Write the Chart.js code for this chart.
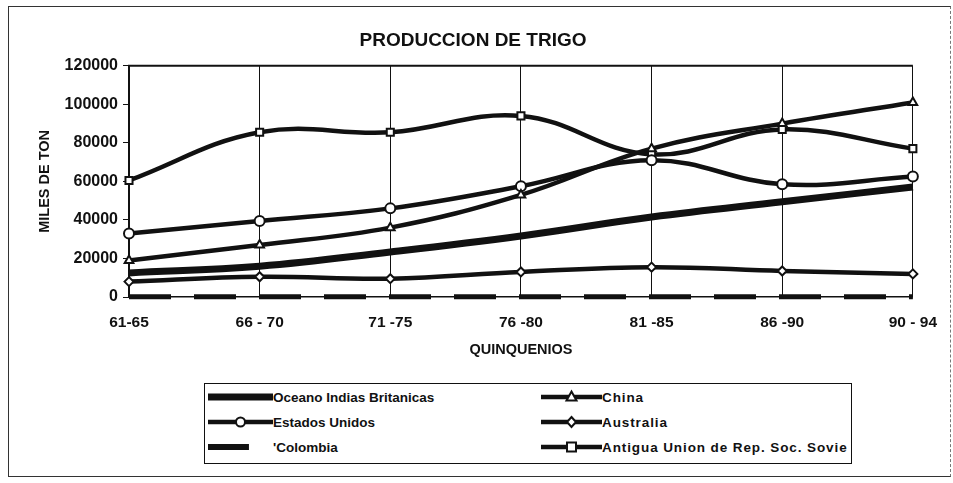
<!DOCTYPE html>
<html><head><meta charset="utf-8">
<script src="https://cdn.jsdelivr.net/npm/chart.js@4/dist/chart.umd.min.js"></script>
<style>
html,body{margin:0;padding:0;background:#fff;}
#wrap{position:relative;width:953px;height:483px;overflow:hidden;font-family:"Liberation Sans",Arial,sans-serif;}
#frame{position:absolute;left:8px;top:6px;width:943px;height:471px;border-left:1px solid #333;border-top:1px solid #333;border-bottom:1px solid #333;border-right:1px dashed #777;box-sizing:border-box;}
canvas{position:absolute;left:0;top:0;}
#legend{position:absolute;left:204px;top:383px;width:648px;height:81px;border:1.5px solid #111;box-sizing:border-box;background:#fff;overflow:hidden;}
.item{position:absolute;height:20px;display:flex;align-items:center;font-weight:bold;font-size:13.5px;color:#111;white-space:nowrap;}
.item.c2{letter-spacing:0.9px;}
.sample{position:absolute;height:20px;}
</style>
</head>
<body>
<div id="wrap">
  <div id="frame"></div>
  <canvas id="c" width="953" height="483"></canvas>
  <div id="legend"></div>
</div>
<script>
// ---- data ----
const categories = ["61-65", "66 - 70", "71 -75", "76 -80", "81 -85", "86 -90", "90 - 94"];
const oceanoIndias = [12500, 16000, 23400, 31700, 41500, 49400, 57100];
const china = [19000, 27000, 36000, 53000, 77000, 90000, 101000];
const estadosUnidos = [33000, 39500, 46000, 57500, 71000, 58500, 62500];
const australia = [8000, 10500, 9500, 13000, 15500, 13500, 12000];
const colombia = [100, 100, 100, 100, 100, 100, 100];
const antiguaURSS = [60500, 85500, 85500, 94000, 74000, 87000, 77000];
const yTicks = [0, 20000, 40000, 60000, 80000, 100000, 120000];

const seriesNames = ["Oceano Indias Britanicas", "China", "Estados Unidos", "Australia", "'Colombia", "Antigua Union de Rep. Soc. Sovie"];

const INK = '#111';
const FONT = '"Liberation Sans", Arial, sans-serif';
function lineDs(label, data, style, extra) {
  return Object.assign({
    label: label, data: data,
    borderColor: INK, backgroundColor: '#fff',
    borderWidth: 4.5, tension: 0.4, clip: 10,
    pointStyle: style, pointRadius: style ? 5 : 0,
    pointBackgroundColor: '#fff', pointBorderColor: INK, pointBorderWidth: 2,
    fill: false
  }, extra || {});
}

const datasets = [
  lineDs(seriesNames[0], oceanoIndias, false, {borderWidth: 7}),
  lineDs(seriesNames[1], china, 'triangle'),
  lineDs(seriesNames[2], estadosUnidos, 'circle'),
  lineDs(seriesNames[3], australia, 'rectRot', {pointRadius: 4.5}),
  lineDs(seriesNames[4], colombia, false, {borderWidth: 5, borderDash: [42, 23], tension: 0, borderCapStyle: 'butt'}),
  lineDs(seriesNames[5], antiguaURSS, 'rect')
];

const frameTop = {
  id: 'frameTop',
  afterDatasetsDraw(chart) {
    const a = chart.chartArea, ctx = chart.ctx;
    ctx.save();
    ctx.strokeStyle = INK; ctx.lineWidth = 2;
    ctx.beginPath(); ctx.moveTo(a.left - 1, a.top); ctx.lineTo(a.right, a.top); ctx.stroke();
    ctx.restore();
  }
};

new Chart(document.getElementById('c'), {
  type: 'line',
  data: {labels: categories, datasets: datasets},
  plugins: [frameTop],
  options: {
    responsive: false, animation: false,
    layout: {padding: {left: 30, top: 20, right: 37, bottom: 118}},
    plugins: {
      legend: {display: false},
      tooltip: {enabled: false},
      title: {display: true, text: 'PRODUCCION DE TRIGO', color: INK,
        font: {family: FONT, size: 19, weight: 'bold'},
        padding: {top: 9, bottom: 14}}
    },
    scales: {
      x: {
        offset: false,
        afterFit(s) { s.height = 68; },
        grid: {color: INK, lineWidth: 1, drawTicks: false},
        border: {color: INK, width: 1.5},
        ticks: {color: INK, padding: 16, maxRotation: 0, autoSkip: false,
          font: {family: FONT, size: 15.5, weight: 'bold'}},
        title: {display: true, text: 'QUINQUENIOS', color: INK, padding: {top: 0, bottom: 6},
          font: {family: FONT, size: 14.5, weight: 'bold'}}
      },
      y: {
        min: yTicks[0], max: yTicks[yTicks.length - 1],
        afterFit(s) { s.width = 99; },
        afterBuildTicks(s) { s.ticks = yTicks.map(v => ({value: v})); },
        grid: {drawOnChartArea: false, color: INK, tickLength: 6, lineWidth: 1},
        border: {color: INK, width: 2},
        ticks: {color: INK, padding: 5, callback: v => String(v),
          font: {family: FONT, size: 16, weight: 'bold'}},
        title: {display: true, text: 'MILES DE TON', color: INK, padding: {top: 6, bottom: 0},
          font: {family: FONT, size: 14.5, weight: 'bold'}}
      }
    }
  }
});

// ---- legend (HTML) ----
function sampleSvg(w, style, thick, dashed) {
  const mid = w / 2;
  let s = '<svg width="' + w + '" height="20" xmlns="http://www.w3.org/2000/svg">';
  if (dashed) {
    s += '<line x1="0" y1="10" x2="' + (w * 0.63) + '" y2="10" stroke="' + INK + '" stroke-width="6"/>';
  } else {
    s += '<line x1="0" y1="10" x2="' + w + '" y2="10" stroke="' + INK + '" stroke-width="' + (thick ? 7 : 4.5) + '" stroke-linecap="round"/>';
  }
  const m = 'fill="#fff" stroke="' + INK + '" stroke-width="2"';
  if (style === 'circle') s += '<circle cx="' + mid + '" cy="10" r="4.5" ' + m + '/>';
  if (style === 'rect') s += '<rect x="' + (mid - 4.5) + '" y="5.5" width="9" height="9" ' + m + '/>';
  if (style === 'triangle') s += '<polygon points="' + mid + ',4.5 ' + (mid + 5) + ',13.5 ' + (mid - 5) + ',13.5" ' + m + '/>';
  if (style === 'rectRot') s += '<polygon points="' + mid + ',5 ' + (mid + 4.5) + ',10 ' + mid + ',15 ' + (mid - 4.5) + ',10" ' + m + '/>';
  return s + '</svg>';
}
const legendLayout = [
  {name: seriesNames[0], col: 0, row: 0, style: null, thick: true},
  {name: seriesNames[1], col: 1, row: 0, style: 'triangle'},
  {name: seriesNames[2], col: 0, row: 1, style: 'circle'},
  {name: seriesNames[3], col: 1, row: 1, style: 'rectRot'},
  {name: seriesNames[4], col: 0, row: 2, style: null, dashed: true},
  {name: seriesNames[5], col: 1, row: 2, style: 'rect'}
];
const leg = document.getElementById('legend');
legendLayout.forEach(it => {
  const rowTop = [3, 28, 53][it.row];
  const sx = it.col === 0 ? 3 : 336, sw = it.col === 0 ? 65 : 61;
  const tx = it.col === 0 ? 68 : 397;
  const sd = document.createElement('div');
  sd.className = 'sample'; sd.style.left = sx + 'px'; sd.style.top = rowTop + 'px';
  sd.innerHTML = sampleSvg(sw, it.style, it.thick, it.dashed);
  leg.appendChild(sd);
  const td = document.createElement('div');
  td.className = 'item' + (it.col === 1 ? ' c2' : ''); td.style.left = tx + 'px'; td.style.top = rowTop + 'px';
  td.textContent = it.name;
  leg.appendChild(td);
});
</script>
</body></html>
